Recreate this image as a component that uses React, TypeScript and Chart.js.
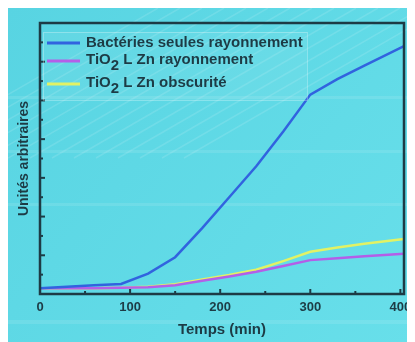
import React, { useEffect, useRef } from "react";
import { Chart, registerables } from "chart.js";

Chart.register(...registerables);

const times = [0, 30, 60, 90, 120, 150, 180, 210, 240, 270, 300, 330, 360, 404];
const bacteriesSeules = [0.3, 0.38, 0.45, 0.52, 1.05, 1.9, 3.4, 5.0, 6.6, 8.4, 10.3, 11.1, 11.8, 12.8];
const tio2Rayonnement = [0.3, 0.3, 0.3, 0.32, 0.35, 0.45, 0.68, 0.9, 1.15, 1.45, 1.75, 1.85, 1.95, 2.08];
const tio2Obscurite = [0.3, 0.3, 0.3, 0.32, 0.38, 0.5, 0.75, 0.98, 1.25, 1.7, 2.18, 2.4, 2.6, 2.84];
const xTicks = [0, 100, 200, 300, 400];
const xMinorTicks = [50, 150, 250, 350];
const yTicks = [1, 2, 3, 4, 5, 6, 7, 8, 9, 10, 11, 12, 13];

const seriesLabels = ["Bactéries seules rayonnement", "TiO2 L Zn rayonnement", "TiO2 L Zn obscurité"];
const seriesColors = ["#3163df", "#b45ee8", "#e2f264"];

const FONT = "'Liberation Sans', Arial, sans-serif";
const DARK = "#1d3b45";

const bgPlugin = {
  id: "bg",
  beforeDraw(chart: any) {
    const { ctx, width, height } = chart;
    ctx.save();
    const g = ctx.createLinearGradient(0, 0, width, height);
    g.addColorStop(0, "#58d4e2");
    g.addColorStop(1, "#68dfea");
    ctx.fillStyle = g;
    ctx.fillRect(0, 0, width, height);
    ctx.strokeStyle = "rgba(255,255,255,0.12)";
    ctx.lineWidth = 1.5;
    for (let i = 0; i < 14; i++) {
      const x0 = 150 + i * 22;
      ctx.beginPath();
      ctx.moveTo(x0, 0);
      ctx.lineTo(x0 - 260, 150);
      ctx.stroke();
    }
    ctx.fillStyle = "rgba(255,255,255,0.10)";
    ctx.fillRect(0, 88, width, 3);
    ctx.fillRect(0, 142, width, 3);
    ctx.fillRect(0, 195, width, 3);
    ctx.fillRect(0, 312, width, 4);
    ctx.restore();
  },
};

const framePlugin = {
  id: "frame",
  afterDatasetsDraw(chart: any) {
    const { ctx, chartArea: a, scales } = chart;
    ctx.save();
    ctx.strokeStyle = DARK;
    ctx.lineWidth = 2.5;
    ctx.strokeRect(a.left, a.top, a.right - a.left, a.bottom - a.top);
    ctx.lineWidth = 2;
    xTicks.forEach((v) => {
      const x = scales.x.getPixelForValue(v);
      ctx.beginPath();
      ctx.moveTo(x, a.bottom);
      ctx.lineTo(x, a.bottom - 5);
      ctx.stroke();
    });
    xMinorTicks.forEach((v) => {
      const x = scales.x.getPixelForValue(v);
      ctx.beginPath();
      ctx.moveTo(x, a.bottom);
      ctx.lineTo(x, a.bottom - 3);
      ctx.stroke();
    });
    yTicks.forEach((v) => {
      const y = scales.y.getPixelForValue(v);
      ctx.beginPath();
      ctx.moveTo(a.left, y);
      ctx.lineTo(a.left + (v % 2 === 0 ? 5 : 3), y);
      ctx.stroke();
    });
    ctx.restore();
  },
};

const legendPlugin = {
  id: "customLegend",
  afterDraw(chart: any) {
    const { ctx, chartArea: a } = chart;
    const bx = a.left + 3;
    const by = a.top + 9;
    ctx.save();
    ctx.fillStyle = "rgba(255,255,255,0.06)";
    ctx.fillRect(bx, by, 264, 68);
    ctx.strokeStyle = "rgba(255,255,255,0.28)";
    ctx.lineWidth = 1;
    ctx.strokeRect(bx + 0.5, by + 0.5, 264, 68);
    const rows = [20, 38, 61];
    ctx.font = `bold 15px ${FONT}`;
    ctx.textBaseline = "middle";
    ctx.fillStyle = DARK;
    seriesLabels.forEach((label, i) => {
      const ly = a.top + rows[i];
      ctx.strokeStyle = seriesColors[i];
      ctx.lineWidth = 3;
      ctx.beginPath();
      ctx.moveTo(a.left + 7, ly);
      ctx.lineTo(a.left + 40, ly);
      ctx.stroke();
      const ty = a.top + rows[i];
      let tx = a.left + 46;
      if (label.startsWith("TiO2")) {
        ctx.fillText("TiO", tx, ty - 1);
        tx += ctx.measureText("TiO").width;
        ctx.fillText("2", tx, ty + 5);
        tx += ctx.measureText("2").width;
        ctx.fillText(label.slice(4), tx, ty - 1);
      } else {
        ctx.fillText(label, tx, ty);
      }
    });
    ctx.restore();
  },
};

export default function App() {
  const ref = useRef<HTMLCanvasElement | null>(null);
  useEffect(() => {
    document.documentElement.style.overflow = "hidden";
    if (!ref.current) return;
    const chart = new Chart(ref.current, {
      type: "line",
      data: {
        datasets: [bacteriesSeules, tio2Rayonnement, tio2Obscurite].map((vals, i) => ({
          label: seriesLabels[i],
          data: times.map((t, j) => ({ x: t, y: vals[j] })),
          borderColor: seriesColors[i],
          borderWidth: 2.5,
          pointRadius: 0,
          tension: 0,
          fill: false,
        })),
      },
      options: {
        responsive: false,
        animation: false,
        layout: { padding: { top: 15, right: 11, left: 0, bottom: 0 } },
        plugins: { legend: { display: false }, tooltip: { enabled: false } },
        scales: {
          x: {
            type: "linear",
            min: 0,
            max: 404,
            afterBuildTicks: (scale: any) => {
              scale.ticks = xTicks.map((v) => ({ value: v }));
            },
            afterFit: (scale: any) => {
              scale.paddingRight = 0;
              scale.paddingLeft = 0;
            },
            grid: { display: false, drawTicks: false },
            border: { display: false },
            ticks: {
              color: DARK,
              padding: 7,
              font: { family: FONT, size: 13, weight: "bold", lineHeight: 1.0 },
            },
            title: {
              display: true,
              text: "Temps (min)",
              color: DARK,
              font: { family: FONT, size: 15, weight: "bold", lineHeight: 1.0 },
              padding: { top: 1, bottom: 5 },
            },
          },
          y: {
            type: "linear",
            min: 0,
            max: 14,
            grid: { display: false, drawTicks: false },
            border: { display: false },
            ticks: { display: false },
            title: {
              display: true,
              text: "Unités arbitraires",
              color: DARK,
              font: { family: FONT, size: 14, weight: "bold" },
              padding: { top: 7.6, bottom: 7.6 },
            },
          },
        },
      },
      plugins: [bgPlugin, framePlugin, legendPlugin],
    });
    return () => chart.destroy();
  }, []);
  return (
    <div style={{ width: 407, height: 334 }}>
      <canvas ref={ref} width={407} height={334} style={{ display: "block" }} />
    </div>
  );
}
